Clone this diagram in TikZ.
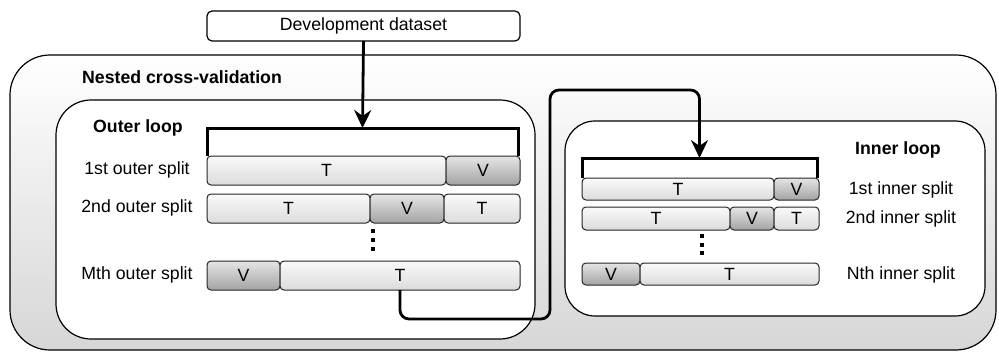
\documentclass[tikz,border=0pt]{standalone}
\usepackage{fontspec}
\setmainfont{Liberation Sans}
\usetikzlibrary{arrows.meta}
\begin{document}
\begin{tikzpicture}[x=1pt,y=-1pt,
  font=\fontsize{17.7pt}{20pt}\selectfont,
  box/.style={draw, line width=1.2pt, inner sep=0pt, outer sep=0pt, anchor=north west},
  seg/.style={draw=black!85, line width=1pt, rounded corners=4pt, inner sep=0pt, outer sep=0pt, anchor=north west},
  tseg/.style={seg, top color=black!2, bottom color=black!14},
  vseg/.style={seg, top color=black!10, bottom color=black!36},
  bar/.style={line width=3pt},
  conn/.style={line width=2.8pt, rounded corners=9pt, -{Stealth[length=18pt,width=17pt,inset=6pt]}},
  lbl/.style={inner sep=0pt},
  dot/.style={fill=black, minimum size=4pt, inner sep=0pt, outer sep=0pt}]
\useasboundingbox (0,0) rectangle (999,353);
% big container
\node[box, rounded corners=40pt, top color=white, bottom color=black!16, minimum width=986pt, minimum height=295pt] (ncv) at (10,55) {};
\node[lbl, anchor=west] (ncvl) at (82,77) {\bfseries Nested cross-validation};
% development dataset
\node[box, rounded corners=5pt, fill=white, minimum width=313pt, minimum height=30pt] (dev) at (207,11) {};
\node[lbl] at (dev.center) {Development dataset};
% outer loop
\node[box, rounded corners=35pt, fill=white, minimum width=479pt, minimum height=239pt] (outer) at (56,100) {};
\node[lbl, anchor=west] (outerl) at (93,128) {\bfseries Outer loop};
% inner loop
\node[box, rounded corners=30pt, fill=white, minimum width=420pt, minimum height=195pt] (inner) at (565,121) {};
\node[lbl] (innerl) at (898,150) {\bfseries Inner loop};
% outer bar
\node[inner sep=0pt, outer sep=0pt, minimum width=311pt, minimum height=28pt, anchor=north west] (obar) at (207,128) {};
\draw[bar] (obar.south west) -- (obar.north west) -- (obar.north east) -- (obar.south east);
% outer rows
\node[tseg, minimum width=239pt, minimum height=29pt] (o1a) at (207,156) {T};
\node[vseg, minimum width=74pt, minimum height=29pt] (o1b) at (446,156) {V};
\node[tseg, minimum width=163pt, minimum height=29pt] (o2a) at (207,194) {T};
\node[vseg, minimum width=74pt, minimum height=29pt] (o2b) at (370,194) {V};
\node[tseg, minimum width=76pt, minimum height=29pt] (o2c) at (444,194) {T};
\node[vseg, minimum width=73pt, minimum height=29pt] (oma) at (207,261) {V};
\node[tseg, minimum width=240pt, minimum height=29pt] (omb) at (280,261) {T};
\node[lbl] at (137,170) {1st outer split};
\node[lbl] at (137,208) {2nd outer split};
\node[lbl] at (137,275) {Mth outer split};
\node[dot] at (373,231) {};
\node[dot] at (373,240) {};
\node[dot] at (373,249) {};
% inner bar
\node[inner sep=0pt, outer sep=0pt, minimum width=235pt, minimum height=20pt, anchor=north west] (ibar) at (582,158) {};
\draw[bar] (ibar.south west) -- (ibar.north west) -- (ibar.north east) -- (ibar.south east);
% inner rows
\node[tseg, minimum width=192pt, minimum height=22pt] (i1a) at (582,178) {T};
\node[vseg, minimum width=45pt, minimum height=22pt] (i1b) at (774,178) {V};
\node[tseg, minimum width=148pt, minimum height=23pt] (i2a) at (582,207) {T};
\node[vseg, minimum width=44pt, minimum height=23pt] (i2b) at (730,207) {V};
\node[tseg, minimum width=45pt, minimum height=23pt] (i2c) at (774,207) {T};
\node[vseg, minimum width=58pt, minimum height=22pt] (ina) at (582,263) {V};
\node[tseg, minimum width=179pt, minimum height=22pt] (inb) at (640,263) {T};
\node[lbl] at (901,190) {1st inner split};
\node[lbl] at (901,219) {2nd inner split};
\node[lbl] at (901,275) {Nth inner split};
\node[dot] at (702,236) {};
\node[dot] at (702,244.5) {};
\node[dot] at (702,253) {};
% connectors
\draw[conn] (dev.south) -- (obar.north);
\draw[conn] ([xshift=120pt]omb.south west) -- ++(0,29) -| (550,90) -| (ibar.north);
\end{tikzpicture}
\end{document}
